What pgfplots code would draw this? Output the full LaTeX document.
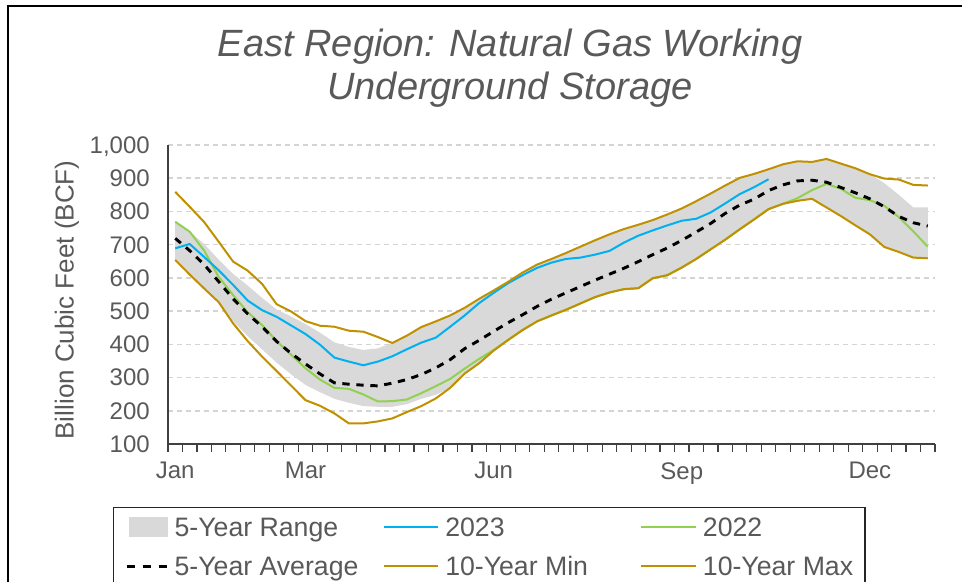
\documentclass[border=0pt]{standalone}
\usepackage{fontspec}
\setmainfont{Liberation Sans}
\usepackage{pgfplots}
\pgfplotsset{compat=1.18}
\usepackage{pgfplotstable}
\usepgfplotslibrary{fillbetween}
\definecolor{rng}{HTML}{D9D9D9}
\definecolor{c23}{HTML}{00B0F0}
\definecolor{c22}{HTML}{92D050}
\definecolor{gold}{HTML}{BF9000}
\definecolor{txt}{HTML}{595959}
\definecolor{gridc}{HTML}{D4D4D4}

\pgfplotstableread{
x max10 min10 avg hi5 lo5 g22
0.5 859 654 719 769 654 769
1.5 814 610 682 739 610 739
2.5 768 568 640 702 568 682
3.5 709 527 589 655 527 603
4.5 649 463 537 612 470 548
5.5 622 410 492 577 425 497
6.5 582 363 453 540 385 458
7.5 521 320 409 505 345 410
8.5 499 276 373 484 310 369
9.5 470 232 341 461 278 328
10.5 456 215 311 435 256 294
11.5 453 192 284 406 236 269
12.5 441 162 280 392 224 266
13.5 438 162 277 383 214 249
14.5 422 168 275 388 212 228
15.5 404 177 283 404 212 229
16.5 426 196 294 426 220 234
17.5 452 214 309 452 236 253
18.5 469 237 329 469 248 274
19.5 487 269 354 487 269 296
20.5 510 312 387 510 312 327
21.5 537 343 412 537 343 356
22.5 562 381 439 562 381 383
23.5 588 413 465 588 413 413
24.5 616 443 489 616 443 443
25.5 640 469 514 640 469 469
26.5 657 487 536 657 487 487
27.5 675 504 555 675 504 504
28.5 694 523 574 694 523 523
29.5 713 542 593 713 542 542
30.5 731 556 611 731 556 556
31.5 747 566 629 747 566 566
32.5 760 569 649 760 569 569
33.5 774 599 670 774 599 599
34.5 791 608 690 791 608 608
35.5 809 631 713 809 631 631
36.5 831 657 738 831 657 657
37.5 854 686 764 854 686 686
38.5 878 715 794 878 715 715
39.5 901 746 819 901 746 746
40.5 913 776 837 913 776 776
41.5 927 807 863 927 807 807
42.5 942 823 880 942 823 823
43.5 951 832 892 951 832 840
44.5 949 838 894 949 838 864
45.5 958 812 888 958 812 883
46.5 944 786 872 944 786 868
47.5 930 758 856 930 758 841
48.5 912 731 838 912 731 834
49.5 899 693 814 885 693 817
50.5 896 678 785 850 678 783
51.5 880 661 766 812 661 740
52.5 878 659 756 812 659 694
}\eastdata

\pgfplotstableread{
x y
0.5 689
1.5 702
2.5 663
3.5 623
4.5 579
5.5 532
6.5 503
7.5 483
8.5 457
9.5 431
10.5 399
11.5 360
12.5 348
13.5 337
14.5 348
15.5 364
16.5 385
17.5 405
18.5 420
19.5 453
20.5 487
21.5 524
22.5 555
23.5 584
24.5 608
25.5 630
26.5 646
27.5 657
28.5 661
29.5 670
30.5 681
31.5 706
32.5 727
33.5 743
34.5 758
35.5 772
36.5 778
37.5 797
38.5 824
39.5 852
40.5 873
41.5 897
}\data

\pgfplotsset{
  linelegend/.style={legend image code/.code={\draw[##1] (0pt,0pt) -- (41pt,0pt);}},
  dashlegend/.style={legend image code/.code={\draw[##1] (0pt,0pt) -- (30pt,0pt);}},
  boxlegend/.style={legend image code/.code={\fill[rng] (2.25pt,-7pt) rectangle (30pt,7pt);}},
}

\begin{document}
\begin{tikzpicture}
\begin{axis}[
  scale only axis,
  width=575.25pt, height=224.25pt,
  at={(126pt,102.75pt)}, anchor=south west,
  xmin=0, xmax=53, ymin=100, ymax=1000,
  axis lines*=left,
  axis line style={line width=1.1pt, black!75},
  xtick={0.5,9.5,22.5,35.5,48.5},
  xticklabels={Jan,Mar,Jun,Sep,Dec},
  minor xtick={0,1,...,53},
  ytick={100,200,...,1000},
  major tick length=0pt,
  minor tick length=6pt,
  tick align=outside,
  xtick pos=bottom, ytick pos=left,
  minor tick style={line width=0.9pt, black!75},
  ymajorgrids=true,
  grid style={line width=1.1pt, gridc, dash pattern=on 3.75pt off 3pt},
  tick label style={font=\fontsize{18}{20}\selectfont, text=txt, inner sep=0pt},
  xticklabel style={anchor=north, yshift=-13.5pt},
  yticklabel style={anchor=east, xshift=-13.5pt, text depth=0pt},
  /pgf/number format/assume math mode=true,
  /pgf/number format/1000 sep={,},
  ylabel={Billion Cubic Feet (BCF)},
  every axis y label/.style={at={(axis description cs:-0.1317,0.4816)}, rotate=90, anchor=center, font=\fontsize{19.5}{22}\selectfont, text=txt},
  title={East Region: Natural Gas Working\\Underground Storage},
  every axis title/.style={at={(axis description cs:0.446,1.256)}, anchor=center, align=center, font=\fontsize{28.5}{32.25}\selectfont\itshape, text=txt},
  legend columns=3,
  legend cell align=left,
  legend style={at={(axis description cs:-0.0717,-0.2107)}, anchor=north west,
    draw=black!85, line width=1pt, inner xsep=9pt, inner ysep=5.8pt,
    font=\fontsize{20}{22}\selectfont, text=txt,
    nodes={inner sep=0pt, text height=16pt, text depth=2pt, anchor=west},
    row sep=11.25pt,
    /tikz/every odd column/.style={column sep=4.5pt},
    /tikz/column 5/.style={column sep=12.75pt}},
]
\addplot[name path=hi, draw=none, forget plot] table[x=x, y=hi5] {\eastdata};
\addplot[name path=lo, draw=none, forget plot] table[x=x, y=lo5] {\eastdata};
\addplot[rng, draw=none, forget plot] fill between[of=hi and lo];
\addplot[c22, line width=1.5pt, forget plot] table[x=x, y=g22] {\eastdata};
\addplot[c23, line width=1.5pt, forget plot] table[x=x, y=y] {\data};
\addplot[black, line width=2.2pt, dash pattern=on 5.5pt off 5pt, forget plot] table[x=x, y=avg] {\eastdata};
\addplot[gold, line width=1.5pt, forget plot] table[x=x, y=min10] {\eastdata};
\addplot[gold, line width=1.5pt, forget plot] table[x=x, y=max10] {\eastdata};

\addlegendimage{boxlegend}
\addlegendentry{\makebox[156pt][l]{5-Year Range}}
\addlegendimage{linelegend, c23, line width=1.5pt}
\addlegendentry{\makebox[146.25pt][l]{2023}}
\addlegendimage{linelegend, c22, line width=1.5pt}
\addlegendentry{2022}
\addlegendimage{dashlegend, black, line width=2.2pt, dash pattern=on 6pt off 6pt}
\addlegendentry{\makebox[156pt][l]{5-Year Average}}
\addlegendimage{linelegend, gold, line width=1.5pt}
\addlegendentry{\makebox[146.25pt][l]{10-Year Min}}
\addlegendimage{linelegend, gold, line width=1.5pt}
\addlegendentry{10-Year Max}
\end{axis}
\draw[line width=1.8pt, black] (6pt,-5pt) -- (6pt,431.25pt) -- (730pt,431.25pt);
\pgfresetboundingbox
\path[use as bounding box] (0pt,0pt) rectangle (721.5pt,435.75pt);
\end{tikzpicture}
\end{document}
